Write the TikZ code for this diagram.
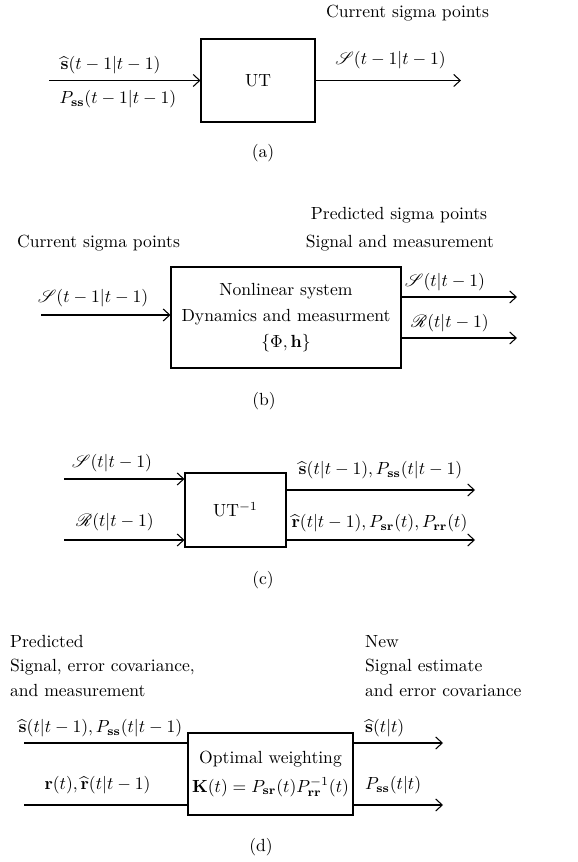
\documentclass[tikz,border=0pt]{standalone}
\usepackage{amsmath}
\usepackage{mathrsfs}
\usetikzlibrary{arrows.meta,positioning}

\begin{document}
\begin{tikzpicture}[
  font=\normalsize,
  blk/.style={draw,line width=0.6pt,inner sep=2pt,align=center},
  arr/.style={-{Straight Barb[length=1.3mm,width=2.4mm]},line width=0.6pt},
  lnk/.style={line width=0.6pt},
  lbl/.style={inner sep=1pt},
  txt/.style={inner sep=1pt,align=left,anchor=west},
  tag/.style={inner sep=1pt}
]
\useasboundingbox (0,0) rectangle (11.56,17.24);

% (a) UT
\node[blk,minimum width=2.28cm,minimum height=1.66cm] (ut) at (5.16,15.63) {UT};
\coordinate (ain) at (0.98,15.63);
\coordinate (aout) at (9.22,15.63);
\node[lbl] (ains) at (2.21,15.94) {$\widehat{\mathbf{s}}(t-1|t-1)$};
\node[lbl] (ainp) at (2.36,15.26) {$P_{\mathbf{ss}}(t-1|t-1)$};
\node[lbl] (aouts) at (7.81,16.04) {$\mathscr{S}(t-1|t-1)$};
\node[lbl] (acur) at (8.15,16.98) {Current sigma points};
\node[tag] (tga) at (5.26,14.18) {(a)};

\draw[arr] (ain) -- (ut.west);
\draw[arr] (ut.east) -- (aout);

% (b) nonlinear system
\node[blk,minimum width=4.6cm,minimum height=2.02cm] (nls) at (5.72,10.89) {Nonlinear system\\[3pt]Dynamics and measurment\\[3pt]$\{\Phi,\mathbf{h}\}$};
\coordinate (bin) at (0.82,10.94);
\coordinate (bo1) at (10.34,11.30);
\coordinate (bo2) at (10.34,10.48);
\node[lbl] (bins) at (1.86,11.28) {$\mathscr{S}(t-1|t-1)$};
\node[lbl] (bcur) at (1.97,12.38) {Current sigma points};
\node[lbl] (bpred) at (7.98,12.94) {Predicted sigma points};
\node[lbl] (bsig) at (8.00,12.38) {Signal and measurement};
\node[lbl] (bouts) at (8.90,11.60) {$\mathscr{S}(t|t-1)$};
\node[lbl] (boutr) at (9.00,10.78) {$\mathscr{R}(t|t-1)$};
\node[tag] (tgb) at (5.28,9.22) {(b)};

\draw[arr] (bin) -- (bin -| nls.west);
\draw[arr] (bo1 -| nls.east) -- (bo1);
\draw[arr] (bo2 -| nls.east) -- (bo2);

% (c) inverse UT
\node[blk,minimum width=2.02cm,minimum height=1.48cm] (uti) at (4.71,7.04) {UT$^{-1}$};
\coordinate (cin1) at (1.28,7.66);
\coordinate (cin2) at (1.28,6.44);
\coordinate (cout1) at (9.50,7.44);
\coordinate (cout2) at (9.50,6.44);
\node[lbl] (cins) at (2.24,7.98) {$\mathscr{S}(t|t-1)$};
\node[lbl] (cinr) at (2.30,6.80) {$\mathscr{R}(t|t-1)$};
\node[lbl] (couts) at (7.61,7.84) {$\widehat{\mathbf{s}}(t|t-1), P_{\mathbf{ss}}(t|t-1)$};
\node[lbl] (coutr) at (7.59,6.78) {$\widehat{\mathbf{r}}(t|t-1), P_{\mathbf{sr}}(t), P_{\mathbf{rr}}(t)$};
\node[tag] (tgc) at (5.26,5.64) {(c)};

\draw[arr] (cin1) -- (cin1 -| uti.west);
\draw[arr] (cin2) -- (cin2 -| uti.west);
\draw[arr] (cout1 -| uti.east) -- (cout1);
\draw[arr] (cout2 -| uti.east) -- (cout2);

% (d) optimal weighting
\node[blk,minimum width=3.30cm,minimum height=1.64cm] (ow) at (5.41,1.76) {Optimal weighting\\[4pt]$\mathbf{K}(t)=P_{\mathbf{sr}}(t)P_{\mathbf{rr}}^{-1}(t)$};
\coordinate (din1) at (0.48,2.38);
\coordinate (din2) at (0.48,1.14);
\coordinate (dout1) at (8.86,2.38);
\coordinate (dout2) at (8.86,1.14);
\node[txt] (dpred) at (0.16,3.92) {Predicted\\[2pt]Signal, error covariance,\\[2pt]and measurement};
\node[txt] (dnew) at (7.26,3.92) {New\\[2pt]Signal estimate\\[2pt]and error covariance};
\node[lbl] (dins) at (2.01,2.68) {$\widehat{\mathbf{s}}(t|t-1), P_{\mathbf{ss}}(t|t-1)$};
\node[lbl] (dinr) at (1.95,1.54) {$\mathbf{r}(t), \widehat{\mathbf{r}}(t|t-1)$};
\node[lbl,anchor=west] (douts) at (7.26,2.68) {$\widehat{\mathbf{s}}(t|t)$};
\node[lbl,anchor=west] (doutp) at (7.26,1.54) {$P_{\mathbf{ss}}(t|t)$};
\node[tag] (tgd) at (5.22,0.30) {(d)};

\draw[lnk] (din1) -- (din1 -| ow.west);
\draw[lnk] (din2) -- (din2 -| ow.west);
\draw[arr] (dout1 -| ow.east) -- (dout1);
\draw[arr] (dout2 -| ow.east) -- (dout2);
\end{tikzpicture}
\end{document}
